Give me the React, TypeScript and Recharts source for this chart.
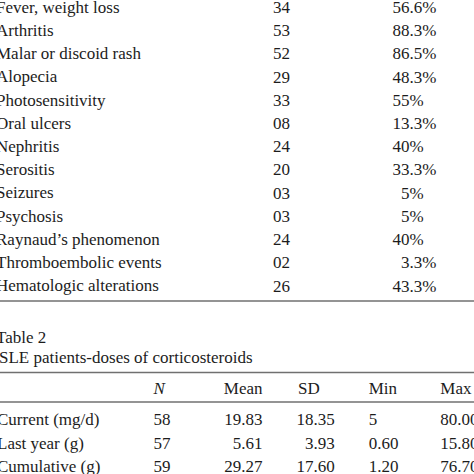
import { BarChart, Bar, XAxis, YAxis, LabelList, Text } from "recharts";

const FONT = '"Liberation Serif", "Times New Roman", Times, serif';
const INK = "#1c1c1c";
const RULE = "#707070";
const FS = 17;

// Table 1 (tail): clinical manifestations
const diagNames = [
  "Fever, weight loss",
  "Arthritis",
  "Malar or discoid rash",
  "Alopecia",
  "Photosensitivity",
  "Oral ulcers",
  "Nephritis",
  "Serositis",
  "Seizures",
  "Psychosis",
  "Raynaud\u2019s phenomenon",
  "Thromboembolic events",
  "Hematologic alterations",
];
const diagCount = [34, 53, 52, 29, 33, 8, 24, 20, 3, 3, 24, 2, 26];
const diagPct = [56.6, 88.3, 86.5, 48.3, 55, 13.3, 40, 33.3, 5, 5, 40, 3.3, 43.3];

// Table 2: doses of corticosteroids
const doseTitle = "Table 2";
const doseCaption = "SLE patients-doses of corticosteroids";
const doseHeaders = ["N", "Mean", "SD", "Min", "Max"];
const doseRows = ["Current (mg/d)", "Last year (g)", "Cumulative (g)"];
const doseN = [58, 57, 59];
const doseMean = [19.83, 5.61, 29.27];
const doseSD = [18.35, 3.93, 17.6];
const doseMin = [5, 0.6, 1.2];
const doseMax = [80.0, 15.8, 76.7];

const diagData = diagNames.map((name, i) => ({ name, n: diagCount[i], pct: diagPct[i] }));
const doseData = doseRows.map((name, i) => ({
  name,
  n: doseN[i],
  mean: doseMean[i],
  sd: doseSD[i],
  min: doseMin[i],
  max: doseMax[i],
}));

const T = (props: any) => (
  <Text fontFamily={FONT} fontSize={FS} fill={INK} verticalAnchor="middle" {...props} />
);

// vertical centre of the bar band a label belongs to
const midY = (p: any) => {
  const vb = p.viewBox ?? p;
  return vb.y + vb.height / 2;
};

const fmtPct = (v: number) => (Number.isInteger(v) ? `${v}%` : `${v.toFixed(1)}%`);
const fmtMin = (v: number) => (Number.isInteger(v) ? `${v}` : v.toFixed(2));

const RowName = (x: number) => (props: any) => (
  <T x={x} y={props.y} textAnchor="start">
    {props.payload.value}
  </T>
);

// percent column is aligned on the decimal point
const PctLabel = (p: any) => {
  const s = fmtPct(p.value);
  const m = s.match(/^(\d+)(.*)$/) as RegExpMatchArray;
  const y = midY(p);
  return (
    <g>
      <T x={409.5} y={y} textAnchor="end">{m[1]}</T>
      <T x={409.5} y={y} textAnchor="start">{m[2]}</T>
    </g>
  );
};

const colLabel = (x: number, anchor: "start" | "end", fmt: (v: number) => string) => (p: any) => (
  <T x={x} y={midY(p)} textAnchor={anchor}>
    {fmt(p.value)}
  </T>
);

const DoseHeader = () => (
  <g>
    <T x={-4} y={336.7} textAnchor="start">{doseTitle}</T>
    <T x={-1} y={357} textAnchor="start">{doseCaption}</T>
    <line x1={0} x2={474} y1={372.5} y2={372.5} stroke={RULE} strokeWidth={1.6} />
    <T x={153.5} y={387.8} textAnchor="start" fontStyle="italic">{doseHeaders[0]}</T>
    <T x={262.5} y={387.8} textAnchor="end">{doseHeaders[1]}</T>
    <T x={298} y={387.8} textAnchor="start">{doseHeaders[2]}</T>
    <T x={368.7} y={387.8} textAnchor="start">{doseHeaders[3]}</T>
    <T x={440.3} y={387.8} textAnchor="start">{doseHeaders[4]}</T>
  </g>
);

export default function App() {
  return (
    <div
      style={{
        position: "fixed",
        left: 0,
        top: 0,
        width: 474,
        height: 474,
        overflow: "hidden",
        background: "#ffffff",
      }}
    >
      <div style={{ position: "absolute", left: 0, top: -5 }}>
        <BarChart
          width={474}
          height={307}
          data={diagData}
          layout="vertical"
          margin={{ top: 0, right: 0, bottom: 0, left: -1 }}
        >
          <XAxis
            type="number"
            height={1}
            tick={false}
            tickLine={false}
            axisLine={{ stroke: RULE, strokeWidth: 1.6 }}
          />
          <YAxis
            type="category"
            dataKey="name"
            width={1}
            axisLine={false}
            tickLine={false}
            interval={0}
            padding={{ top: 0, bottom: 4 }}
            tick={RowName(-4)}
          />
          <Bar dataKey="n" fill="transparent" isAnimationActive={false}>
            <LabelList dataKey="n" content={colLabel(273, "start", (v) => String(v).padStart(2, "0"))} />
            <LabelList dataKey="pct" content={PctLabel} />
          </Bar>
        </BarChart>
      </div>
      <div style={{ position: "absolute", left: 0, top: 0 }}>
        <BarChart
          width={474}
          height={478}
          data={doseData}
          layout="vertical"
          margin={{ top: 0, right: 0, bottom: 0, left: -1 }}
        >
          <XAxis
            type="number"
            orientation="top"
            height={402}
            ticks={[0]}
            interval={0}
            tickLine={false}
            axisLine={{ stroke: RULE, strokeWidth: 1.6 }}
            tick={DoseHeader}
          />
          <YAxis
            type="category"
            dataKey="name"
            width={1}
            axisLine={false}
            tickLine={false}
            interval={0}
            padding={{ top: 5, bottom: 0 }}
            tick={RowName(-3)}
          />
          <Bar dataKey="n" fill="transparent" isAnimationActive={false}>
            <LabelList dataKey="n" content={colLabel(153.5, "start", (v) => String(v))} />
            <LabelList dataKey="mean" content={colLabel(262.5, "end", (v) => v.toFixed(2))} />
            <LabelList dataKey="sd" content={colLabel(334.7, "end", (v) => v.toFixed(2))} />
            <LabelList dataKey="min" content={colLabel(368.7, "start", fmtMin)} />
            <LabelList dataKey="max" content={colLabel(440.3, "start", (v) => v.toFixed(2))} />
          </Bar>
        </BarChart>
      </div>
    </div>
  );
}
